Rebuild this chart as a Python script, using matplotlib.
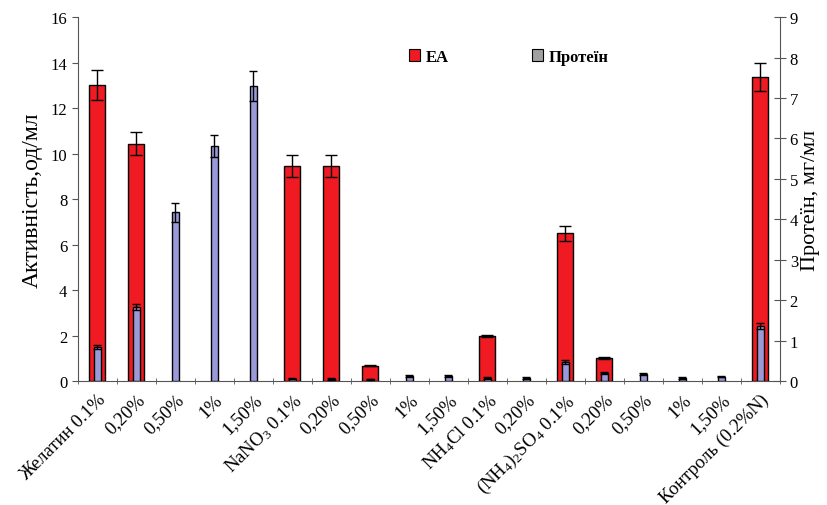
import numpy as np
import matplotlib
matplotlib.use('Agg')
import matplotlib.pyplot as plt
from matplotlib.patches import Patch

plt.rcParams['font.family'] = ['Liberation Serif', 'DejaVu Serif']
plt.rcParams['mathtext.fontset'] = 'custom'
plt.rcParams['mathtext.rm'] = 'Liberation Serif'
plt.rcParams['mathtext.it'] = 'Liberation Serif'

# Data
labels = ['Желатин 0.1%', '0,20%', '0,50%', '1%', '1,50%',
          r'NaNO$_3$ 0.1%', '0,20%', '0,50%', '1%', '1,50%',
          r'NH$_4$Cl 0.1%', '0,20%',
          r'(NH$_4$)$_2$SO$_4$ 0.1%', '0,20%', '0,50%', '1%', '1,50%',
          'Контроль (0.2%N)']
ea = [13.0, 10.43, 0, 0, 0, 9.45, 9.45, 0.68, 0, 0,
      1.97, 0, 6.5, 1.0, 0, 0, 0, 13.36]
ea_err = [0.66, 0.5, 0, 0, 0, 0.48, 0.48, 0.03, 0, 0,
          0.05, 0, 0.33, 0.05, 0, 0, 0, 0.62]
protein = [0.84, 1.83, 4.17, 5.82, 7.29, 0.06, 0.05, 0.04, 0.12, 0.13,
           0.07, 0.08, 0.48, 0.2, 0.18, 0.08, 0.11, 1.36]
protein_err = [0.05, 0.07, 0.23, 0.27, 0.37, 0.02, 0.02, 0.02, 0.02, 0.02,
               0.02, 0.02, 0.05, 0.03, 0.03, 0.02, 0.02, 0.08]

red = '#f01a22'
purple = '#9a9ad8'

fig = plt.figure(figsize=(8.28, 5.06), dpi=100)
ax = fig.add_axes([0.094, 0.245, 0.848, 0.719])
ax2 = ax.twinx()

x = np.arange(len(labels))
ea = np.array(ea)
ea_err = np.array(ea_err)
protein = np.array(protein)
protein_err = np.array(protein_err)

m = ea > 0
ax.bar(x[m], ea[m], width=0.41, color=red, edgecolor='black', linewidth=1.0, zorder=2)
ax.errorbar(x[m], ea[m], yerr=ea_err[m], fmt='none', ecolor='black',
            elinewidth=1.0, capsize=4, capthick=1.0, zorder=3)

ax2.bar(x, protein, width=0.19, color=purple, edgecolor='black', linewidth=1.0, zorder=2)
ax2.errorbar(x, protein, yerr=protein_err, fmt='none', ecolor='black',
             elinewidth=1.0, capsize=3, capthick=1.0, zorder=3)

ax.set_xlim(-0.5, len(labels) - 0.5)
ax.set_ylim(0, 16)
ax2.set_ylim(0, 9)
ax.set_yticks(np.arange(0, 17, 2))
ax2.set_yticks(np.arange(0, 10, 1))

ax.set_xticks(x)
ax.set_xticklabels(labels, rotation=45, ha='right', rotation_mode='anchor', fontsize=13.5)
ax.set_xticks(np.arange(-0.5, len(labels), 1), minor=True)
ax.tick_params(axis='x', which='major', length=0, pad=7)
ax.tick_params(axis='x', which='minor', length=4, direction='inout', color='#555555')
ax.tick_params(axis='y', labelsize=12, direction='out', length=4, color='#555555')
ax2.tick_params(axis='y', labelsize=12, direction='inout', length=8, color='#555555', pad=3)

for a in (ax, ax2):
    a.spines['top'].set_visible(False)
    for s in ('left', 'right', 'bottom'):
        a.spines[s].set_color('#555555')
ax.spines['right'].set_visible(False)
ax2.spines['left'].set_visible(False)
ax2.spines['bottom'].set_visible(False)

ax.set_ylabel('Активність,од/мл', fontsize=17, labelpad=6)
ax2.set_ylabel('Протеїн, мг/мл', fontsize=16, labelpad=2)

handles = [Patch(facecolor=red, edgecolor='black', linewidth=0.8),
           Patch(facecolor='#a0a0a0', edgecolor='black', linewidth=0.8)]
leg = ax2.legend(handles, ['ЕА', 'Протеїн'], loc='upper left',
                 bbox_to_anchor=(0.45, 0.955), ncol=2, frameon=False,
                 handlelength=0.7, handleheight=0.7, handletextpad=0.3,
                 columnspacing=5.0, prop={'weight': 'bold', 'size': 12})

fig.savefig('out.png', dpi=100)
